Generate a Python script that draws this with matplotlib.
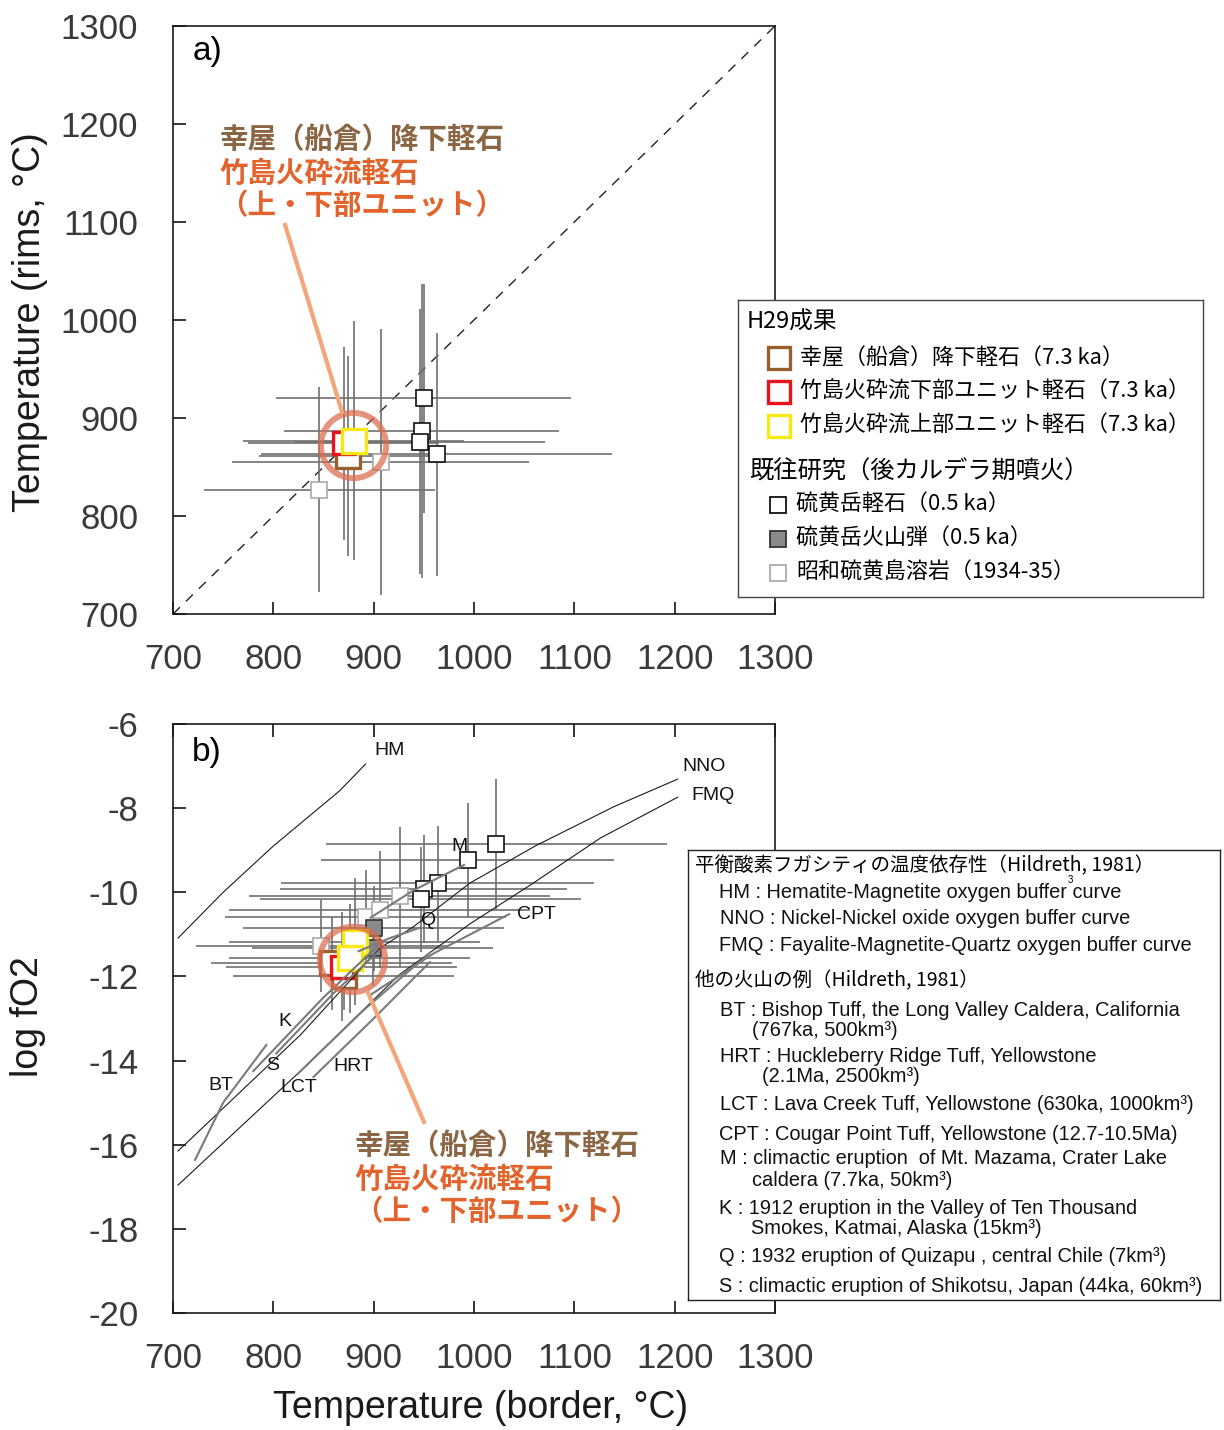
import matplotlib
matplotlib.use('Agg')
import matplotlib.pyplot as plt

plt.rcParams['font.family'] = ['Liberation Sans', 'Noto Sans CJK JP', 'DejaVu Sans']
plt.rcParams['axes.unicode_minus'] = False
JP = ['Noto Sans CJK JP', 'DejaVu Sans']

# ---------- a) rim vs border temperature (deg C) ----------
# 硫黄岳軽石 (0.5 ka)
iwo_pum_a_x = [950, 948, 946, 963]
iwo_pum_a_y = [920, 887, 876, 863]
iwo_pum_a_xerr = [147, 137, 125, 175]
iwo_pum_a_yerr = [117, 150, 135, 124]
# 昭和硫黄島溶岩 (1934-35)
showa_a_x = [907, 846]
showa_a_y = [855, 827]
showa_a_xerr = [148, 115]
showa_a_yerr = [136, 105]
# H29 samples: 幸屋 / 竹島下部 / 竹島上部
koya_a_x, koya_a_y, koya_a_xerr, koya_a_yerr = [874], [861], [88], [102]
lower_a_x, lower_a_y, lower_a_xerr, lower_a_yerr = [870], [874], [95], [98]
upper_a_x, upper_a_y, upper_a_xerr, upper_a_yerr = [880], [877], [110], [122]

# ---------- b) log fO2 vs border temperature ----------
iwo_pum_b_x = [1022, 994, 964, 950, 947]
iwo_pum_b_y = [-8.85, -9.23, -9.79, -9.93, -10.17]
iwo_pum_b_xerr = [170, 146, 156, 143, 160]
iwo_pum_b_yerr = [1.55, 1.35, 1.37, 1.28, 1.25]
bomb_b_x = [900, 899]
bomb_b_y = [-10.86, -11.33]
bomb_b_xerr = [130, 120]
bomb_b_yerr = [1.0, 0.9]
showa_b_x = [848, 892, 906, 926]
showa_b_y = [-11.28, -10.58, -10.41, -10.10]
showa_b_xerr = [125, 140, 150, 150]
showa_b_yerr = [1.1, 1.1, 1.4, 1.65]
koya_b_x, koya_b_y = [858, 870], [-11.69, -12.0]
koya_b_xerr, koya_b_yerr = [120, 110], [1.1, 0.8]
lower_b_x, lower_b_y = [868], [-11.77]
lower_b_xerr, lower_b_yerr = [115], [1.3]
upper_b_x, upper_b_y = [881, 876], [-11.17, -11.57]
upper_b_xerr, upper_b_yerr = [125, 120], [1.5, 1.3]

# buffer curves (Hildreth, 1981)
hm_x = [705, 750, 800, 866, 892]
hm_y = [-11.09, -10.0, -8.9, -7.59, -6.95]
nno_x = [705, 827, 906, 939, 996, 1061, 1139, 1203]
nno_y = [-16.15, -13.39, -11.33, -10.83, -9.78, -8.90, -7.97, -7.31]
fmq_x = [705, 827, 926, 996, 1056, 1126, 1203]
fmq_y = [-16.96, -14.25, -11.95, -10.75, -9.83, -8.71, -7.74]

# trends of other calderas
trend_names = ['BT', 'K', 'S', 'LCT', 'HRT', 'CPT', 'M', 'Q']
trend_x = [[722, 750, 793], [780, 850, 905], [803, 860, 905], [825, 890, 956],
           [840, 900, 956], [896, 960, 1035], [897, 940, 990], [885, 915, 945]]
trend_y = [[-16.36, -15.0, -13.63], [-14.25, -12.5, -11.25], [-13.83, -12.4, -11.4],
           [-14.30, -12.8, -11.44], [-14.39, -13.0, -11.66], [-12.45, -11.45, -10.52],
           [-10.6, -9.95, -9.35], [-11.4, -11.1, -10.85]]
curve_label_x = [916, 1208, 1217, 1043, 986, 954, 812, 799, 748, 825, 880]
curve_label_y = [-6.62, -7.02, -7.69, -10.52, -8.92, -10.66, -13.06, -14.11, -14.60, -14.65, -14.15]
curve_label_txt = ['HM', 'NNO', 'FMQ', 'CPT', 'M', 'Q', 'K', 'S', 'BT', 'LCT', 'HRT']

note_lines = ['幸屋（船倉）降下軽石', '竹島火砕流軽石', '（上・下部ユニット）']

BROWN = '#96602F'
RED = '#E8141B'
YELLOW = '#F7EA14'
BAR = '#6f6f6f'
NOTE_BROWN = '#8B6644'
NOTE_ORANGE = '#E2632B'
RING = '#DD6A4B'
LEADER = '#F4A57A'
TICK = '#3a3a3a'

fig = plt.figure(figsize=(12.24, 14.30), dpi=100)
ax_a = fig.add_axes([173 / 1224, 1 - 614 / 1430, 602 / 1224, 588 / 1430])
ax_b = fig.add_axes([173 / 1224, 1 - 1313 / 1430, 602 / 1224, 589 / 1430])


def bars(ax, x, y, xe, ye):
    ax.errorbar(x, y, xerr=xe, yerr=ye, fmt='none', ecolor=BAR,
                elinewidth=1.2, capsize=0, zorder=2)


def squares(ax, x, y, size, edge, face='white', ew=1.2):
    ax.plot(x, y, 's', ms=size, mec=edge, mfc=face, mew=ew, ls='none', zorder=3)


# panel a
bars(ax_a, showa_a_x, showa_a_y, showa_a_xerr, showa_a_yerr)
bars(ax_a, iwo_pum_a_x, iwo_pum_a_y, iwo_pum_a_xerr, iwo_pum_a_yerr)
bars(ax_a, koya_a_x, koya_a_y, koya_a_xerr, koya_a_yerr)
bars(ax_a, lower_a_x, lower_a_y, lower_a_xerr, lower_a_yerr)
bars(ax_a, upper_a_x, upper_a_y, upper_a_xerr, upper_a_yerr)
ax_a.plot([700, 1300], [700, 1300], color='#222222', lw=1.0, ls=(0, (7, 6)), zorder=1)
squares(ax_a, showa_a_x, showa_a_y, 11, '#aaaaaa')
squares(ax_a, iwo_pum_a_x, iwo_pum_a_y, 11, '#111111')
squares(ax_a, koya_a_x, koya_a_y, 17, BROWN, ew=2.4)
squares(ax_a, lower_a_x, lower_a_y, 16, RED, ew=2.4)
squares(ax_a, upper_a_x, upper_a_y, 17, YELLOW, ew=2.4)
ax_a.plot([879], [872], 'o', ms=47, mfc='none', mec=RING, mew=4.3, alpha=0.72, zorder=6)
ax_a.plot([811.7, 868.5], [1097, 906], color=LEADER, lw=3, zorder=6)
note_y_a = [1184, 1149, 1116]
for txt, yy, col in zip(note_lines, note_y_a, [NOTE_BROWN, NOTE_ORANGE, NOTE_ORANGE]):
    ax_a.text(746, yy, txt, color=col, fontsize=20.5, fontweight='bold',
              family=JP, va='center', ha='left', zorder=7)
ax_a.set_xlim(700, 1300)
ax_a.set_ylim(700, 1300)

# panel b
bars(ax_b, showa_b_x, showa_b_y, showa_b_xerr, showa_b_yerr)
bars(ax_b, iwo_pum_b_x, iwo_pum_b_y, iwo_pum_b_xerr, iwo_pum_b_yerr)
bars(ax_b, bomb_b_x, bomb_b_y, bomb_b_xerr, bomb_b_yerr)
bars(ax_b, koya_b_x, koya_b_y, koya_b_xerr, koya_b_yerr)
bars(ax_b, lower_b_x, lower_b_y, lower_b_xerr, lower_b_yerr)
bars(ax_b, upper_b_x, upper_b_y, upper_b_xerr, upper_b_yerr)
squares(ax_b, showa_b_x, showa_b_y, 11, '#aaaaaa')
squares(ax_b, iwo_pum_b_x, iwo_pum_b_y, 11, '#111111')
squares(ax_b, bomb_b_x, bomb_b_y, 11, '#333333', face='#8a8a8a')
squares(ax_b, koya_b_x, koya_b_y, 17, BROWN, ew=2.4)
squares(ax_b, lower_b_x, lower_b_y, 16, RED, ew=2.4)
squares(ax_b, upper_b_x, upper_b_y, 17, YELLOW, ew=2.4)
for bx, by in [(hm_x, hm_y), (nno_x, nno_y), (fmq_x, fmq_y)]:
    ax_b.plot(bx, by, color='#1a1a1a', lw=0.8, zorder=4)
for tx, ty in zip(trend_x, trend_y):
    ax_b.plot(tx, ty, color='#7a7a7a', lw=1.5, zorder=4)
for lx, ly, lt in zip(curve_label_x, curve_label_y, curve_label_txt):
    ha = 'left' if lt in ('NNO', 'FMQ', 'CPT') else 'center'
    ax_b.text(lx, ly, lt, fontsize=14, ha=ha, va='center', color='#111111', zorder=5)
ax_b.plot([878.4], [-11.59], 'o', ms=47, mfc='none', mec=RING, mew=4.3, alpha=0.72, zorder=6)
ax_b.plot([894.4, 950.2], [-12.39, -15.46], color=LEADER, lw=3, zorder=6)
note_y_b = [-16.03, -16.84, -17.60]
for txt, yy, col in zip(note_lines, note_y_b, [NOTE_BROWN, NOTE_ORANGE, NOTE_ORANGE]):
    ax_b.text(881, yy, txt, color=col, fontsize=20.5, fontweight='bold',
              family=JP, va='center', ha='left', zorder=7)
ax_b.set_xlim(700, 1300)
ax_b.set_ylim(-20, -6)

# axes styling
for ax in (ax_a, ax_b):
    ax.set_xticks(range(700, 1301, 100))
    for sp in ax.spines.values():
        sp.set_linewidth(1.2)
        sp.set_color('#1a1a1a')
    ax.tick_params(direction='in', length=9, width=1.1, labelsize=25,
                   labelcolor=TICK, right=False)
    ax.tick_params(axis='x', pad=21)
    ax.tick_params(axis='y', pad=25)
ax_a.set_yticks(range(700, 1301, 100))
ax_a.tick_params(top=False)
ax_b.set_yticks(range(-20, -5, 2))
ax_b.tick_params(top=True)

ax_a.text(0.032, 0.956, 'a)', transform=ax_a.transAxes, fontsize=24, va='center')
ax_b.text(0.032, 0.952, 'b)', transform=ax_b.transAxes, fontsize=24, va='center')

fig.text(30 / 1224, 1 - 322 / 1430, 'Temperature (rims, °C)', rotation=90,
         fontsize=27, ha='center', va='center', color='#1a1a1a')
fig.text(28 / 1224, 1 - 1017 / 1430, 'log fO2', rotation=90,
         fontsize=27, ha='center', va='center', color='#1a1a1a')
fig.text(481 / 1224, 1 - 1408 / 1430, 'Temperature (border, °C)',
         fontsize=27, ha='center', va='center', color='#1a1a1a')

# legend box for panel a (drawn in pixel units of its own frame)
lg_a = fig.add_axes([738 / 1224, 1 - 597 / 1430, 465 / 1224, 297 / 1430], zorder=10)
lg_a.set_xlim(738, 1203)
lg_a.set_ylim(597, 300)
lg_a.set_xticks([])
lg_a.set_yticks([])
for sp in lg_a.spines.values():
    sp.set_linewidth(1.0)
    sp.set_color('#444444')
lg_a.text(747, 322, 'H29成果', fontsize=17, family=JP, va='center')
for yy, col, txt in [(358, BROWN, '幸屋（船倉）降下軽石（7.3 ka）'),
                     (392, RED, '竹島火砕流下部ユニット軽石（7.3 ka）'),
                     (426, YELLOW, '竹島火砕流上部ユニット軽石（7.3 ka）')]:
    lg_a.plot([779], [yy], 's', ms=16, mfc='white', mec=col, mew=2.4)
    lg_a.text(800, yy, txt, fontsize=15.8, family=JP, va='center')
lg_a.text(749, 472, '既往研究（後カルデラ期噴火）', fontsize=17.5, family=JP, va='center')
for yy, edge, face, txt in [(505, '#111111', 'white', '硫黄岳軽石（0.5 ka）'),
                            (539, '#333333', '#8a8a8a', '硫黄岳火山弾（0.5 ka）'),
                            (573, '#aaaaaa', 'white', '昭和硫黄島溶岩（1934-35）')]:
    lg_a.plot([778], [yy], 's', ms=11, mfc=face, mec=edge, mew=1.3)
    lg_a.text(796, yy, txt, fontsize=15.8, family=JP, va='center')

# legend box for panel b
lg_b = fig.add_axes([688 / 1224, 1 - 1300 / 1430, 532 / 1224, 450 / 1430], zorder=10)
lg_b.set_xlim(688, 1220)
lg_b.set_ylim(1300, 850)
lg_b.set_xticks([])
lg_b.set_yticks([])
for sp in lg_b.spines.values():
    sp.set_linewidth(1.0)
    sp.set_color('#222222')
lg_b.text(695, 866, '平衡酸素フガシティの温度依存性（Hildreth, 1981）', fontsize=14,
          family=JP, va='center')
lg_b.text(1070, 880, '3', fontsize=7, va='center', ha='center')
lg_b.text(695, 981, '他の火山の例（Hildreth, 1981）', fontsize=14, family=JP, va='center')
legend_b_lines = [
    (719, 892, 'HM : Hematite-Magnetite oxygen buffer curve'),
    (720, 918, 'NNO : Nickel-Nickel oxide oxygen buffer curve'),
    (719, 945, 'FMQ : Fayalite-Magnetite-Quartz oxygen buffer curve'),
    (720, 1010, 'BT : Bishop Tuff, the Long Valley Caldera, California'),
    (752, 1031, '(767ka, 500km³)'),
    (720, 1056, 'HRT : Huckleberry Ridge Tuff, Yellowstone'),
    (762, 1077, '(2.1Ma, 2500km³)'),
    (720, 1104, 'LCT : Lava Creek Tuff, Yellowstone (630ka, 1000km³)'),
    (719, 1134, 'CPT : Cougar Point Tuff, Yellowstone (12.7-10.5Ma)'),
    (720, 1159, 'M : climactic eruption  of Mt. Mazama, Crater Lake'),
    (752, 1181, 'caldera (7.7ka, 50km³)'),
    (719, 1208, 'K : 1912 eruption in the Valley of Ten Thousand'),
    (751, 1229, 'Smokes, Katmai, Alaska (15km³)'),
    (719, 1256, 'Q : 1932 eruption of Quizapu , central Chile (7km³)'),
    (719, 1286, 'S : climactic eruption of Shikotsu, Japan (44ka, 60km³)'),
]
for lx, ly, txt in legend_b_lines:
    lg_b.text(lx, ly, txt, fontsize=14.4, va='center', color='#111111')

fig.savefig('out.png', dpi=100)
